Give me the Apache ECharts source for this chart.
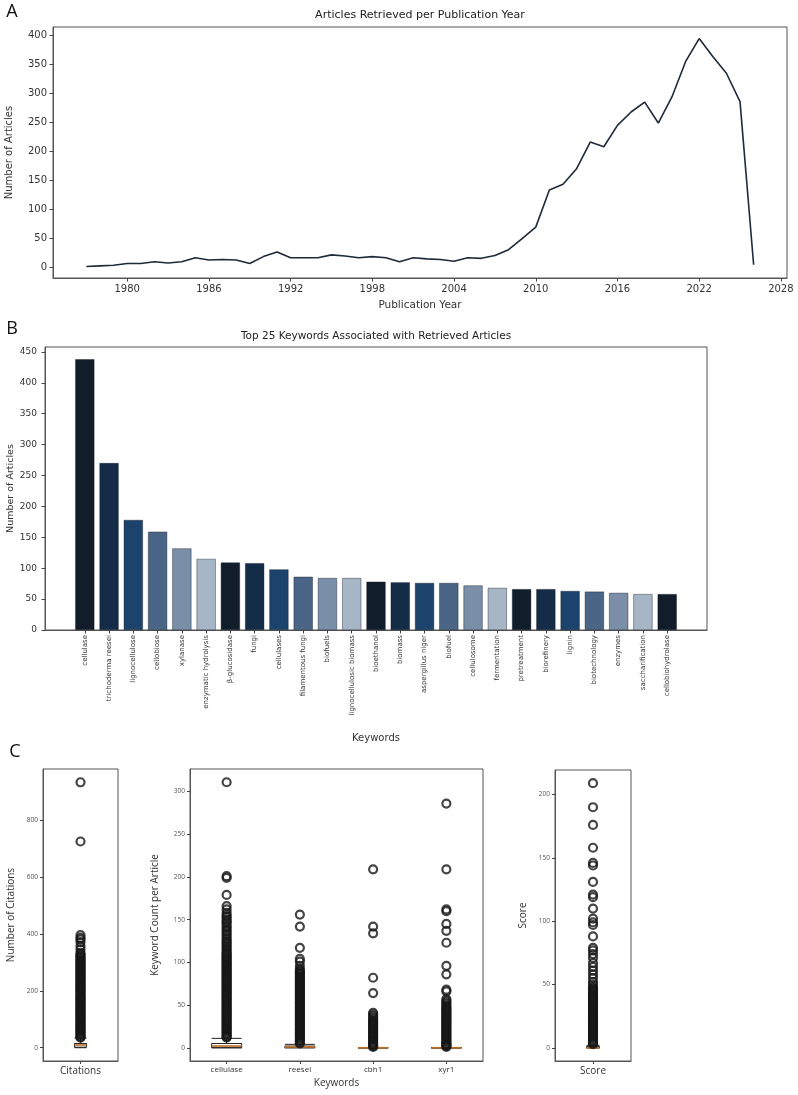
<!DOCTYPE html>
<html><head><meta charset="utf-8">
<script src="https://cdn.jsdelivr.net/npm/echarts@6/dist/echarts.min.js"></script>
<style>html,body{margin:0;padding:0;background:#fff}#c{width:798px;height:1095px}</style>
</head><body><div id="c"></div>
<script>
// ---------- Panel A data ----------
const years = [1977,1978,1979,1980,1981,1982,1983,1984,1985,1986,1987,1988,1989,1990,1991,1992,1993,1994,1995,1996,1997,1998,1999,2000,2001,2002,2003,2004,2005,2006,2007,2008,2009,2010,2011,2012,2013,2014,2015,2016,2017,2018,2019,2020,2021,2022,2023,2024,2025,2026];
const articleCounts = [1,2,3,6,6,9,7,9,16,12,13,12,6,18,26,16,16,16,21,19,16,18,16,9,16,14,13,10,16,15,20,30,49,69,133,143,170,216,208,245,268,285,249,294,355,395,364,335,286,4];
const yearTicks = [1980,1986,1992,1998,2004,2010,2016,2022,2028];
const countTicks = [0,50,100,150,200,250,300,350,400];

// ---------- Panel B data ----------
const keywords = ['cellulase','trichoderma reesei','lignocellulose','cellobiose','xylanase','enzymatic hydrolysis','β-glucosidase','fungi','cellulases','filamentous fungi','biofuels','lignocellulosic biomass','bioethanol','biomass','aspergillus niger','biofuel','cellulosome','fermentation','pretreatment','biorefinery','lignin','biotechnology','enzymes','saccharification','cellobiohydrolase'];
const keywordCounts = [438,270,178,159,132,115,109,108,98,86,84,84,78,77,76,76,72,68,66,66,63,62,60,58,58];
const keywordTicks = [0,50,100,150,200,250,300,350,400,450];

// ---------- Panel C data ----------
const citationCategories = ['Citations'];
const citationBox = [[0,2,10,15,34]];
const citationOutliers = [932,724,395,386,380,371,357,345,333,328,324,319,315,311,307,303,299,295,291,287,283,279,276,272,268,264,260,256,252,248,244,241,237,233,229,225,221,217,213,209,206,202,198,194,190,186,182,178,174,171,167,163,159,155,151,147,143,139,136,132,128,124,120,116,112,108,104,101,97,93,89,85,81,77,73,69,66,62,58,54,50,46,42,38,35];
const citationTicks = [0,200,400,600,800];

const kwCategories = ['cellulase','reesei','cbh1','xyr1'];
const kwBoxes = [[0,0,2,5,11],[0,0,1,2,4],[0,0,0,0,0],[0,0,0,0,0]];
const cellulaseOutliers = [311,201,199,179,166,162,158,155,153,150,148,146,143,141,138,136,133,131,128,126,124,122,120,118,116,114,112,110,109,107,106,104,103,101,100,98,97,95,94,92,91,89,88,86,85,83,82,80,79,77,76,74,73,71,70,68,67,65,64,62,61,59,58,56,55,53,52,50,49,47,46,44,43,41,40,38,37,35,34,32,31,29,28,26,25,23,22,20,19,17,16,14,13,12];
const reeseiOutliers = [156,142,117,104,101,96,92,90,89,87,86,84,83,81,80,78,77,75,74,72,71,69,68,66,65,63,62,60,59,57,56,54,53,51,50,48,47,45,44,42,41,39,38,36,35,33,32,30,29,27,26,24,23,21,20,18,17,15,14,12,11,9,8,6,5];
const cbh1Outliers = [209,142,134,82,64,41,39,37,35,33,31,30,28,27,25,24,22,21,19,18,16,15,13,12,10,9,7,6,4,3,2,1];
const xyr1Outliers = [286,209,162,160,145,137,123,96,86,68,66,57,55,53,51,49,47,46,44,43,41,40,38,37,35,34,32,31,29,28,26,25,23,22,20,19,17,16,14,13,11,10,8,7,5,4,3,2,1];
const kwTicks = [0,50,100,150,200,250,300];

const scoreCategories = ['Score'];
const scoreBox = [[0,0,0,1,2]];
const scoreOutliers = [209,190,176,158,146,144,131,121,119,110,102,99,97,88,79,77,74,71,67,64,61,58,55,52,50,48,47,46,45,44,43,42,41,40,39,38,37,36,35,34,33,32,31,30,29,28,27,26,25,24,23,22,21,20,19,18,17,16,15,14,13,12,11,10,9,8,7,6,5,4,3];
const scoreTicks = [0,50,100,150,200];

// ---------- styling ----------
const barPalette = ['#111d2b','#142c48','#1b436b','#4b6586','#7a8ea7','#a7b6c7'];
const FONT_A = 'DejaVu Sans';
const FONT_C = 'Open Sans';
const frame = '#555';
const txt = '#333';

const chart = echarts.init(document.getElementById('c'), null, {renderer:'canvas'});

function gridBox(l,t,w,h){return {left:l,top:t,width:w,height:h,show:true,borderColor:frame,borderWidth:1,backgroundColor:'transparent',containLabel:false,outerBoundsMode:'none'};}

function valAxis(gi, min, max, ticks, extra){
  return Object.assign({
    type:'value', gridIndex:gi, min:min, max:max, nameMoveOverlap:false,
    axisLine:{show:true,onZero:false,lineStyle:{color:frame}},
    axisTick:{show:true,length:3.5,lineStyle:{color:'#444'},customValues:ticks},
    axisLabel:{customValues:ticks,formatter:v=>String(v),color:txt,fontSize:10,fontFamily:FONT_A,margin:6},
    splitLine:{show:false}
  }, extra||{});
}
function catAxis(gi, cats, fs, extra){
  return Object.assign({type:'category',gridIndex:gi,data:cats,nameMoveOverlap:false,
    axisLine:{show:true,onZero:false,lineStyle:{color:frame}},
    axisTick:{show:true,alignWithLabel:true,length:3,lineStyle:{color:'#444'}},
    axisLabel:{color:txt,fontSize:fs,fontFamily:FONT_C,margin:5}}, extra||{});
}

const ringStyle = {color:'rgba(255,255,255,0)',borderColor:'#161616',borderWidth:2.2};
function outlierSeries(xi, yi, cat, arr){
  return {type:'scatter',xAxisIndex:xi,yAxisIndex:yi,symbol:'circle',symbolSize:8,z:5,
    itemStyle:ringStyle,data:arr.map(v=>[cat,v]),silent:true};
}
function boxSeries(xi, yi, data, w){
  return [
    {type:'boxplot',xAxisIndex:xi,yAxisIndex:yi,boxWidth:[w,w],z:2,
     itemStyle:{color:'rgba(255,255,255,0)',borderColor:'#222',borderWidth:1},data:data,silent:true},
    {type:'scatter',xAxisIndex:xi,yAxisIndex:yi,symbol:'rect',symbolSize:[w,1.8],z:3,
     itemStyle:{color:'#e0852f'},data:data.map((b,i)=>[i,b[2]]),silent:true}
  ];
}

const option = {
  animation:false,
  backgroundColor:'#fff',
  grid:[
    gridBox(53,27,734,251),
    gridBox(45,347,662,283),
    gridBox(43,769,75,292),
    gridBox(190,769,293,292),
    gridBox(555,770,76,291)
  ],
  xAxis:[
    valAxis(0,1974.55,2028.45,yearTicks,{name:'Publication Year',nameLocation:'middle',nameGap:22,
      nameTextStyle:{fontSize:10.5,fontFamily:FONT_A,color:txt},
      axisLabel:{customValues:yearTicks,formatter:v=>String(v),color:txt,fontSize:10,fontFamily:FONT_A,margin:6}}),
    valAxis(1,-1.64,25.64,keywords.map((k,i)=>i),{name:'Keywords',nameLocation:'middle',nameGap:103,
      nameTextStyle:{fontSize:10,fontFamily:FONT_A,color:txt},
      axisLabel:{customValues:keywords.map((k,i)=>i),formatter:v=>keywords[v],rotate:90,color:txt,fontSize:7,fontFamily:FONT_A,margin:5}}),
    catAxis(2,citationCategories,10),
    catAxis(3,kwCategories,8,{name:'Keywords',nameLocation:'middle',nameGap:17,nameTextStyle:{fontSize:10,fontFamily:FONT_C,color:txt}}),
    catAxis(4,scoreCategories,10)
  ],
  yAxis:[
    valAxis(0,-19,415,countTicks,{name:'Number of Articles',nameLocation:'middle',nameGap:39,
      nameTextStyle:{fontSize:10,fontFamily:FONT_A,color:txt}}),
    valAxis(1,0,458,keywordTicks,{name:'Number of Articles',nameLocation:'middle',nameGap:29,
      nameTextStyle:{fontSize:9.5,fontFamily:FONT_A,color:txt},
      axisLabel:{customValues:keywordTicks,formatter:v=>String(v),color:txt,fontSize:9,fontFamily:FONT_A,margin:8}}),
    valAxis(2,-46.6,978.6,citationTicks,{name:'Number of Citations',nameLocation:'middle',nameGap:27,
      nameTextStyle:{fontSize:10,fontFamily:FONT_C,color:txt},
      axisTick:{show:true,length:3,lineStyle:{color:'#444'},customValues:citationTicks},
      axisLabel:{customValues:citationTicks,formatter:v=>String(v),color:'#555',fontSize:6.5,fontFamily:FONT_C,margin:5}}),
    valAxis(3,-15.5,326.5,kwTicks,{name:'Keyword Count per Article',nameLocation:'middle',nameGap:30,
      nameTextStyle:{fontSize:10,fontFamily:FONT_C,color:txt},
      axisTick:{show:true,length:3,lineStyle:{color:'#444'},customValues:kwTicks},
      axisLabel:{customValues:kwTicks,formatter:v=>String(v),color:'#555',fontSize:6.5,fontFamily:FONT_C,margin:5}}),
    valAxis(4,-10.4,219.4,scoreTicks,{name:'Score',nameLocation:'middle',nameGap:27,
      nameTextStyle:{fontSize:10,fontFamily:FONT_C,color:txt},
      axisTick:{show:true,length:3,lineStyle:{color:'#444'},customValues:scoreTicks},
      axisLabel:{customValues:scoreTicks,formatter:v=>String(v),color:'#555',fontSize:6.5,fontFamily:FONT_C,margin:5}})
  ],
  graphic:[
    {type:'text',x:12,y:12,style:{text:'A',font:'18px "Open Sans"',fill:'#111',align:'center',verticalAlign:'middle',textAlign:'center',textVerticalAlign:'middle'}},
    {type:'text',x:12,y:329,style:{text:'B',font:'18px "Open Sans"',fill:'#111',align:'center',verticalAlign:'middle',textAlign:'center',textVerticalAlign:'middle'}},
    {type:'text',x:15,y:752,style:{text:'C',font:'18px "Open Sans"',fill:'#111',align:'center',verticalAlign:'middle',textAlign:'center',textVerticalAlign:'middle'}},
    {type:'text',x:420,y:15,style:{text:'Articles Retrieved per Publication Year',font:'11px "DejaVu Sans"',fill:'#222',align:'center',verticalAlign:'middle',textAlign:'center',textVerticalAlign:'middle'}},
    {type:'text',x:376,y:336,style:{text:'Top 25 Keywords Associated with Retrieved Articles',font:'10.5px "DejaVu Sans"',fill:'#222',align:'center',verticalAlign:'middle',textAlign:'center',textVerticalAlign:'middle'}}
  ],
  series:[
    {type:'line',xAxisIndex:0,yAxisIndex:0,showSymbol:false,symbol:'none',
     lineStyle:{color:'#1e2a38',width:1.6},data:years.map((y,i)=>[y,articleCounts[i]]),silent:true},
    {type:'bar',xAxisIndex:1,yAxisIndex:1,barWidth:19,silent:true,
     itemStyle:{color:p=>barPalette[p.dataIndex%barPalette.length],borderColor:'#0e1620',borderWidth:0.4},
     data:keywordCounts.map((v,i)=>[i,v])},
    ...boxSeries(2,2,citationBox,12),
    outlierSeries(2,2,0,citationOutliers),
    ...boxSeries(3,3,kwBoxes,30),
    outlierSeries(3,3,0,cellulaseOutliers),
    outlierSeries(3,3,1,reeseiOutliers),
    outlierSeries(3,3,2,cbh1Outliers),
    outlierSeries(3,3,3,xyr1Outliers),
    ...boxSeries(4,4,scoreBox,13),
    outlierSeries(4,4,0,scoreOutliers)
  ]
};
chart.setOption(option);
</script>
</body></html>
